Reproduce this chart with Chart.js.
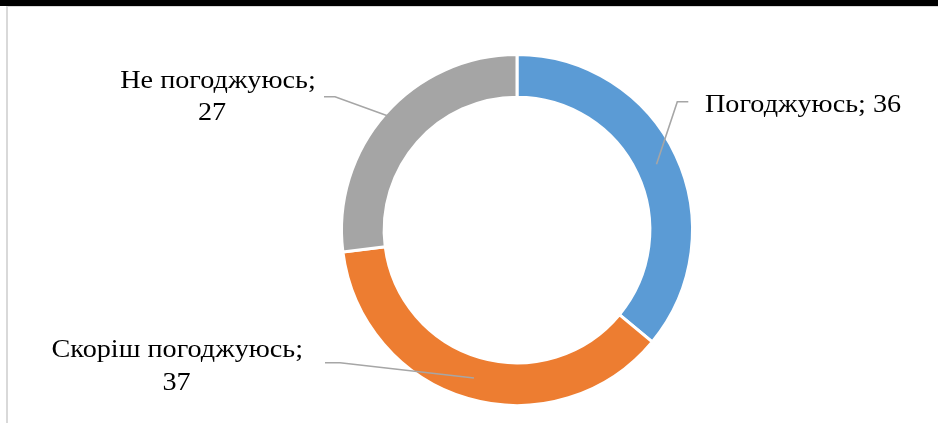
<!DOCTYPE html>
<html>
<head>
<meta charset="utf-8">
<script src="https://cdn.jsdelivr.net/npm/chart.js@4"></script>
<style>
  html, body { margin: 0; padding: 0; background: #fff; }
  #wrap { position: relative; width: 938px; height: 423px; overflow: hidden; background: #fff; }
  #wrap canvas { position: absolute; left: 0; top: 0; }
  .topbar { position: absolute; left: 0; top: 0; width: 938px; height: 6px; background: #000; }
  .hline { position: absolute; left: 6px; top: 6px; width: 932px; height: 1px; background: #d9d9d9; }
  .vline { position: absolute; left: 6px; top: 6px; width: 2px; height: 417px; background: #d9d9d9; }
</style>
</head>
<body>
<div id="wrap">
  <canvas id="c" width="938" height="423"></canvas>
  <div class="topbar"></div>
  <div class="hline"></div>
  <div class="vline"></div>
</div>
<script>
const categories = ['Погоджуюсь', 'Скоріш погоджуюсь', 'Не погоджуюсь'];
const values = [36, 37, 27];
const colors = ['#5B9BD5', '#ED7D31', '#A5A5A5'];

// label layout (offsets from doughnut centre), not data
const labelLayout = [
  { anchorFrac: 0.5, path: [[160.3, -128.3], [171.3, -128.3]], align: 'left',
    lines: (c, v) => [c + '; ' + v], pos: [[188, -117.7]] },
  { anchorFrac: 0.5, path: [[-177, 132.7], [-192, 132.7]], align: 'center',
    lines: (c, v) => [c + ';', String(v)], pos: [[-339.7, 127], [-340.5, 160]] },
  { anchorFrac: 0.97, path: [[-182, -133.3], [-193, -133.3]], align: 'center',
    lines: (c, v) => [c + ';', String(v)], pos: [[-299, -141.7], [-305, -110]] }
];
const textStretch = 1.085;

const labelPlugin = {
  id: 'outLabels',
  afterDatasetsDraw(chart) {
    const ctx = chart.ctx;
    const meta = chart.getDatasetMeta(0);
    meta.data.forEach((arc, i) => {
      const p = arc.getProps(['x', 'y', 'startAngle', 'endAngle', 'innerRadius', 'outerRadius'], true);
      const L = labelLayout[i];
      const mid = (p.startAngle + p.endAngle) / 2;
      const visIn = p.innerRadius + 1.5, visOut = p.outerRadius - 1.5;
      const r = visIn + L.anchorFrac * (visOut - visIn);
      const ax = p.x + r * Math.cos(mid), ay = p.y + r * Math.sin(mid);
      ctx.save();
      ctx.strokeStyle = '#a6a6a6';
      ctx.lineWidth = 1.6;
      ctx.beginPath();
      ctx.moveTo(ax, ay);
      L.path.forEach(pt => ctx.lineTo(p.x + pt[0], p.y + pt[1]));
      ctx.stroke();
      ctx.fillStyle = '#000';
      ctx.font = '26px "Liberation Serif", "Times New Roman", serif';
      ctx.textAlign = L.align;
      ctx.textBaseline = 'alphabetic';
      const lines = L.lines(categories[i], values[i]);
      lines.forEach((t, k) => {
        const tx = p.x + L.pos[k][0], ty = p.y + L.pos[k][1];
        ctx.save();
        ctx.translate(tx, ty);
        ctx.scale(textStretch, 1);
        ctx.fillText(t, 0, 0);
        ctx.restore();
      });
      ctx.restore();
    });
  }
};

new Chart(document.getElementById('c'), {
  type: 'doughnut',
  data: {
    labels: categories,
    datasets: [{
      data: values,
      backgroundColor: colors,
      borderColor: '#ffffff',
      borderWidth: 3,
      hoverOffset: 0
    }]
  },
  options: {
    responsive: false,
    animation: false,
    cutout: '75.7%',
    layout: { padding: { left: 340, top: 53, right: 244, bottom: 16 } },
    plugins: { legend: { display: false }, tooltip: { enabled: false } },
    events: []
  },
  plugins: [labelPlugin]
});
</script>
</body>
</html>
